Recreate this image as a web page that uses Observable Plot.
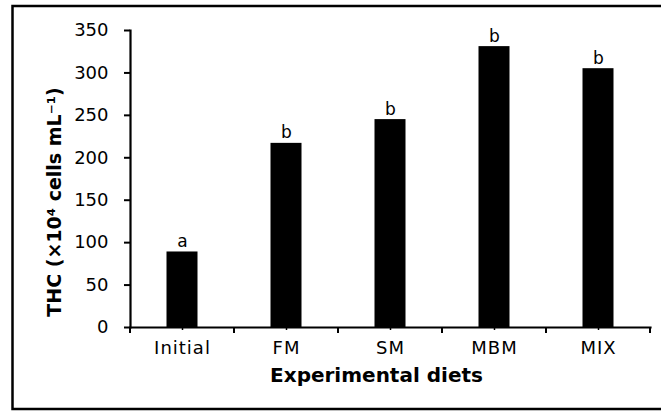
<!DOCTYPE html>
<html>
<head>
<meta charset="utf-8">
<script src="https://cdn.jsdelivr.net/npm/d3@7"></script>
<script src="https://cdn.jsdelivr.net/npm/@observablehq/plot@0.6"></script>
<style>
  html, body { margin: 0; padding: 0; background: #fff; overflow: hidden; }
  #wrap { position: relative; width: 661px; height: 412px; overflow: hidden; }
  svg { font-family: "DejaVu Sans", Verdana, sans-serif; }
</style>
</head>
<body>
<div id="wrap"></div>
<script>
const categories = ["Initial", "FM", "SM", "MBM", "MIX"];
const values = [89, 217, 245, 331, 305];
const letters = ["a", "b", "b", "b", "b"];
const yTicks = [0, 50, 100, 150, 200, 250, 300, 350];
const xTitle = "Experimental diets";
const yTitle = "THC (×10\u2074 cells mL\u207B\u00B9)";

const data = categories.map((c, i) => ({diet: c, thc: values[i], letter: letters[i]}));

const W = 661, H = 412, mL = 130, mR = 11, mT = 30, mB = 85;
const bw = (W - mL - mR) / categories.length;
const barW = 31;

const plot = Plot.plot({
  width: W, height: H,
  marginLeft: mL, marginRight: mR, marginTop: mT, marginBottom: mB,
  style: {fontFamily: "DejaVu Sans, Verdana, sans-serif", background: "#fff", color: "#000"},
  x: {domain: categories, padding: 0, label: null},
  y: {domain: [0, 350], label: null},
  marks: [
    Plot.barY(data, {x: "diet", y: "thc", fill: "#000", insetLeft: (bw - barW) / 2, insetRight: (bw - barW) / 2}),
    Plot.text(data, {x: "diet", y: "thc", text: "letter", lineAnchor: "bottom", dy: -5, fontSize: 17, fill: "#000"}),
    Plot.axisY({ticks: yTicks, tickSize: 6, tickPadding: 16, fontSize: 18, label: null, strokeWidth: 2}),
    Plot.axisX({tickSize: 3, tickPadding: 11, fontSize: 18, label: null, strokeWidth: 1.5}),
    Plot.frame({anchor: "left", strokeWidth: 2.2}),
    Plot.frame({anchor: "bottom", strokeWidth: 2.2}),
    Plot.text([xTitle], {frameAnchor: "bottom", textAnchor: "middle", dy: 54, dx: -14, fontSize: 20, fontWeight: "bold", fill: "#000"}),
    Plot.text([yTitle], {frameAnchor: "left", textAnchor: "middle", rotate: -90, dx: -76, dy: 23, fontSize: 19, fontWeight: "bold", fill: "#000"})
  ]
});

// letter-spacing for x tick labels
d3.select(plot).selectAll("g[aria-label='x-axis tick label'] text").style("letter-spacing", "1px");

// boundary ticks at band edges, positioned via the plot's x scale
const xs = plot.scale("x");
const edges = categories.map(c => xs.apply(c)).concat([xs.apply(categories[categories.length - 1]) + xs.bandwidth]);
const y0 = plot.scale("y").apply(0);
const g = d3.select(plot).append("g").attr("stroke", "#000").attr("stroke-width", 2);
edges.forEach(x => {
  g.append("line").attr("x1", x).attr("x2", x).attr("y1", y0).attr("y2", y0 + 6);
});

// outer picture border (left, top, bottom only; right side lies outside the image)
d3.select(plot).append("path")
  .attr("d", `M${W + 20},6 H12.5 V409 H${W + 20}`)
  .attr("fill", "none").attr("stroke", "#000").attr("stroke-width", 2.5);

document.getElementById("wrap").prepend(plot);
</script>
</body>
</html>
